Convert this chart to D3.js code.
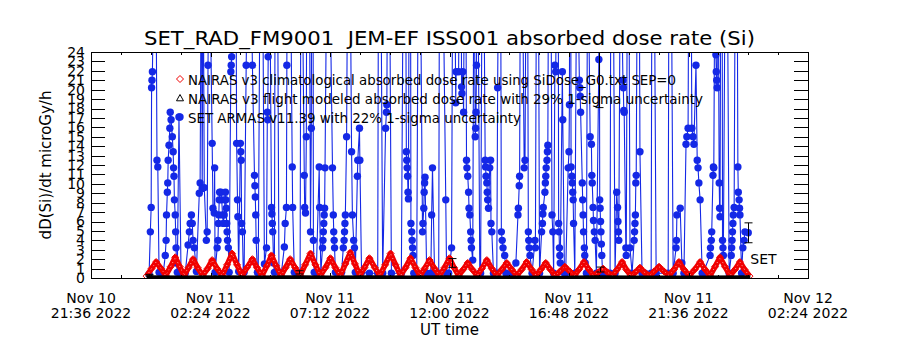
<!DOCTYPE html>
<html>
<head>
<meta charset="utf-8">
<script src="https://cdn.jsdelivr.net/npm/d3@7"></script>
<style>
  body { margin: 0; background: #fff; }
  svg text { font-family: "DejaVu Sans", sans-serif; fill: #000; }
</style>
</head>
<body>
<svg id="chart" width="900" height="350"></svg>
<script>
// times are minutes since 2022-11-10 00:00 UT
const dayZero = Date.UTC(2022, 10, 10, 0, 0);

const xTickTimes = ["2022-11-10T21:36Z", "2022-11-11T02:24Z", "2022-11-11T07:12Z", "2022-11-11T12:00Z",
                    "2022-11-11T16:48Z", "2022-11-11T21:36Z", "2022-11-12T02:24Z"];
const yTicks = [0,1,2,3,4,5,6,7,8,9,10,11,12,13,14,15,16,17,18,19,20,21,22,23,24];

const legendLabels = [
  "NAIRAS v3 climatological absorbed dose rate using SiDose_G0.txt SEP=0",
  "NAIRAS v3 flight modeled absorbed dose rate with 29% 1-sigma uncertainty",
  "SET ARMAS v11.39 with 22% 1-sigma uncertainty"
];

// SET ARMAS dose rate [minute, microGy/h]
const setDose = [
  [1436,0.4],[1439,4.9],[1441,7.5],[1442,20.2],[1443,21.0],[1444,21.9],[1448,35],[1453,30],[1455,12.5],[1457,11.8],[1460,0.6],
  [1470,0.5],[1475,2.4],[1477,4.0],[1478,6.7],[1480,9.1],[1481,10.1],[1482,12.5],[1484,14.1],[1486,15.9],[1487,17.6],[1489,16.8],
  [1492,15.0],[1494,13.4],[1495,11.7],[1496,10.8],[1497,8.3],[1499,6.7],[1500,4.9],[1501,3.2],[1502,1.6],[1504,0.6],[1508,17.1],[1513,0.5],
  [1523,0.5],[1530,3.5],[1533,4.9],[1535,5.8],[1538,6.7],[1540,5.8],[1542,4.0],[1545,3.2],[1550,0.7],[1557,9.0],[1559,10.1],[1562,38],
  [1564,9.5],[1566,38],[1569,9.6],[1574,4.0],[1576,4.9],[1578,22.6],[1581,38],[1588,14.3],[1590,7.4],[1593,6.9],[1594,11.7],[1595,0.6],
  [1600,3.2],[1602,4.0],[1603,5.8],[1604,6.7],[1605,8.3],[1606,9.1],[1609,9.1],[1611,8.3],[1613,6.7],[1615,5.8],[1617,6.7],[1619,8.3],
  [1620,9.1],[1621,8.3],[1622,7.4],[1623,5.8],[1624,4.9],[1625,4.0],[1627,3.2],[1629,0.6],
  [1633,21.9],[1634,22.6],[1635,23.5],[1638,38],[1645,38],[1647,14.3],[1649,8.3],[1650,6.5],[1652,0.7],[1656,14.3],[1657,13.4],
  [1658,12.5],[1659,5.8],[1661,4.9],[1663,0.6],
  [1665,0.6],[1670,22.6],[1675,38],[1680,38],[1685,22.6],[1690,10.9],[1691,9.8],[1692,8.6],[1693,6.7],[1694,4.0],[1697,0.6],
  [1699,0.6],[1704,38],[1709,38],[1714,1.5],[1719,3.2],[1721,17.6],[1722,16.8],[1723,23.5],[1726,38],[1731,7.5],[1732,6.8],[1733,5.8],
  [1734,4.9],[1736,1.6],[1738,0.6],[1740,38],[1745,38],[1749,0.6],
  [1755,0.6],[1762,3.3],[1764,5.8],[1767,7.5],[1768,22.6],[1769,38],[1776,38],[1781,11.8],[1782,7.5],[1786,0.6],
  [1793,0.6],[1800,0.6],[1802,38],[1804,38],[1810,10.9],[1811,7.5],[1813,6.9],[1815,15.0],[1816,38],[1822,38],[1825,4.9],[1827,15.9],
  [1828,38],[1831,38],[1832,4.0],[1834,0.6],
  [1839,0.6],[1846,11.8],[1847,7.5],[1850,0.6],[1854,3.2],[1855,4.0],[1856,4.9],[1857,5.8],[1858,6.7],[1859,7.4],[1860,11.7],[1865,38],
  [1870,38],[1878,11.7],[1880,6.7],[1881,4.9],[1882,4.0],[1883,3.2],[1885,0.6],
  [1900,0.6],[1904,3.2],[1906,4.0],[1907,4.9],[1908,5.8],[1909,6.7],[1912,15.0],[1915,38],[1920,38],[1924,13.4],[1926,6.7],[1929,4.0],
  [1931,3.2],[1933,0.6],[1938,10.8],[1939,12.5],[1943,15.9],[1944,12.5],[1948,0.6],
  [1967,0.5],[1987,0.5],[1989,38],[1994,38],[1999,0.5],[2006,15.9],[2008,17.6],[2009,18.4],[2011,38],[2015,38],[2020,0.5],
  [2044,0.5],[2049,38],[2054,38],[2056,13.4],[2057,12.5],[2058,11.7],[2059,10.8],[2060,9.1],[2061,8.4],[2063,38],[2066,38],[2067,5.8],
  [2069,4.9],[2070,4.0],[2071,3.2],[2072,2.4],[2074,0.5],
  [2081,0.5],[2085,38],[2089,38],[2095,4.9],[2096,5.8],[2098,7.4],[2099,9.1],[2100,10.1],[2101,10.7],[2105,0.5],[2115,0.5],[2117,6.7],
  [2119,11.7],[2124,0.5],[2134,0.5],[2136,38],[2143,38],[2151,8.3],[2153,0.5],
  [2158,0.5],[2165,3.2],[2168,38],[2172,38],[2175,18.6],[2176,21.9],[2182,21.9],[2184,38],[2188,38],[2189,20.3],[2190,19.6],[2192,21.9],
  [2194,17.6],[2196,38],[2199,38],[2201,12.5],[2202,11.7],[2204,10.8],[2206,9.1],[2207,7.4],[2209,6.7],[2211,4.9],[2212,4.0],[2213,3.2],
  [2216,1.9],[2219,38],[2222,15.0],[2223,15.9],[2224,17.6],[2225,22.6],[2228,38],[2233,0.5],
  [2235,0.5],[2239,38],[2242,38],[2246,12.5],[2247,11.8],[2248,10.8],[2250,10.1],[2251,9.1],[2252,8.3],[2254,7.4],[2257,11.7],[2259,12.5],
  [2260,5.8],[2262,4.9],[2266,0.5],[2274,0.5],[2276,20.2],[2279,38],[2283,38],[2285,4.9],[2287,4.0],[2289,3.2],[2293,2.4],[2296,0.5],
  [2308,0.5],[2320,1.6],[2325,6.7],[2326,7.4],[2328,9.8],[2329,10.8],[2331,38],[2335,38],[2340,11.7],[2342,12.5],[2345,38],[2348,38],
  [2350,4.9],[2351,4.0],[2352,3.2],[2354,2.4],[2359,0.5],[2366,4.0],[2367,3.2],[2370,38],[2374,38],[2377,0.5],
  [2382,4.9],[2384,5.8],[2385,6.8],[2386,7.5],[2390,9.1],[2391,10.1],[2392,10.8],[2393,11.7],[2395,12.5],[2396,13.4],[2397,14.1],
  [2399,38],[2404,38],[2407,6.7],[2409,4.9],[2411,0.5],[2414,22.6],[2416,21.9],[2419,38],[2422,38],[2423,5.8],[2424,4.9],[2425,3.2],
  [2426,2.4],[2427,1.6],[2432,21.9],[2433,16.8],[2437,0.5],
  [2440,0.5],[2446,11.7],[2448,13.4],[2449,18.4],[2450,38],[2452,38],[2453,11.8],[2455,10.8],[2456,10.1],[2457,9.1],[2458,8.3],[2459,5.8],
  [2462,0.5],[2467,38],[2473,21.0],[2474,20.2],[2475,19.3],[2476,17.6],[2480,10.1],[2481,8.3],[2482,6.7],[2483,4.9],[2485,3.2],[2486,2.4],
  [2487,1.6],[2490,0.5],[2493,38],[2499,15.0],[2502,14.2],[2503,10.9],[2504,10.1],[2506,7.5],[2507,6.1],[2509,4.9],[2511,4.0],[2514,0.5],
  [2520,23.2],[2521,38],[2522,8.3],[2523,7.4],[2524,6.0],[2525,4.9],[2526,3.6],[2527,2.4],[2529,0.5],
  [2532,0.5],[2547,0.5],[2549,38],[2554,38],[2559,0.5],[2563,9.1],[2565,7.5],[2566,6.0],[2567,4.9],[2568,4.0],[2572,38],[2578,21.0],
  [2579,20.2],[2580,17.8],[2581,17.6],[2585,3.2],[2586,2.4],[2589,38],[2592,38],[2595,3.2],[2600,0.5],[2605,4.0],[2606,4.9],[2607,5.8],
  [2608,6.7],[2609,10.1],[2610,10.9],[2613,38],[2617,38],[2619,13.4],[2624,0.5],
  [2631,0.5],[2646,0.5],[2648,38],[2653,38],[2658,0.5],[2687,0.5],[2689,38],[2694,38],[2699,0.5],[2706,3.2],[2707,4.0],[2708,6.7],
  [2716,7.4],[2720,1.6],[2725,0.5],[2730,14.2],[2732,15.0],[2735,15.9],[2737,38],[2742,38],[2744,15.9],[2747,15.0],[2749,14.2],
  [2754,22.6],[2757,12.5],[2759,11.7],[2761,10.1],[2764,8.3],[2769,0.5],
  [2771,0.5],[2788,2.4],[2789,3.2],[2791,4.0],[2792,4.9],[2795,10.9],[2796,11.8],[2797,11.7],[2800,38],[2802,23.7],[2803,21.9],
  [2804,21.0],[2805,20.2],[2807,38],[2810,10.1],[2811,7.4],[2812,6.5],[2814,38],[2817,38],[2818,4.0],[2819,3.2],[2820,2.4],[2825,38],
  [2829,38],[2834,0.5],[2839,2.4],[2840,3.2],[2841,4.0],[2842,4.9],[2843,5.8],[2844,6.7],[2846,7.5],[2849,38],[2853,38],[2855,11.8],
  [2856,9.1],[2858,8.3],[2859,7.4],[2860,6.7],[2864,0.5],[2867,3.2],[2870,4.0],[2872,4.9],[2880,4.8]
];
const setErrorBars = [[2520,23.2],[2880,4.8]];
const setUncertainty = 0.22;

// NAIRAS v3 climatological [minute, microGy/h]
const climDose = [
  [1430,0.2],[1442,1.0],[1453,1.7],[1465,1.0],[1476,0.25],[1488,1.2],[1499,2.2],[1510,1.2],[1520,0.25],[1531,1.1],[1542,2.0],[1553,1.1],
  [1565,0.25],[1577,1.0],[1588,1.9],[1600,1.0],[1612,0.25],[1624,1.4],[1636,2.6],[1648,1.4],[1660,0.25],[1672,1.1],[1685,2.0],[1696,1.1],
  [1708,0.25],[1720,1.3],[1731,2.4],[1742,1.3],[1754,0.25],[1765,1.1],[1776,2.0],[1788,1.1],[1800,0.25],[1812,1.4],[1825,2.6],[1837,1.4],
  [1849,0.25],[1861,1.1],[1873,2.1],[1885,1.1],[1897,0.25],[1909,1.5],[1921,2.7],[1932,1.5],[1944,0.25],[1955,1.1],[1967,2.1],[1980,1.1],
  [1992,0.25],[2005,1.4],[2018,2.6],[2030,1.4],[2042,0.25],[2054,1.1],[2066,2.1],[2078,1.1],[2089,0.25],[2100,1.0],[2112,1.9],[2124,1.0],
  [2136,0.25],[2148,1.1],[2160,2.1],[2171,1.1],[2182,0.25],[2193,0.9],[2204,1.6],[2215,0.9],[2227,0.25],[2238,1.0],[2250,1.9],[2262,1.0],
  [2274,0.25],[2286,0.9],[2298,1.6],[2310,0.9],[2322,0.25],[2334,0.9],[2346,1.7],[2358,0.9],[2369,0.25],[2380,0.9],[2392,1.6],[2403,0.9],
  [2415,0.25],[2426,0.7],[2438,1.2],[2450,0.7],[2461,0.25],[2472,0.9],[2484,1.7],[2496,0.9],[2507,0.25],[2518,0.6],[2530,1.0],[2541,0.6],
  [2553,0.25],[2564,0.9],[2576,1.7],[2586,0.9],[2597,0.25],[2608,0.6],[2619,1.1],[2630,0.6],[2642,0.25],[2653,0.7],[2665,1.2],[2677,0.7],
  [2689,0.25],[2701,0.9],[2713,1.7],[2725,0.9],[2738,0.25],[2751,0.9],[2764,1.7],[2776,0.9],[2788,0.25],[2800,1.2],[2812,2.2],[2824,1.2],
  [2836,0.25],[2848,0.9],[2860,1.7],[2871,0.9],[2883,0.2]
];

// NAIRAS v3 flight modeled [minute, microGy/h]
const flightDose = [
  [1430,0.12],[1520,0.10],[1610,0.14],[1700,0.10],[1790,0.12],[1880,0.10],[1970,0.13],[2060,0.10],[2150,0.12],
  [2240,0.10],[2330,0.11],[2420,0.09],[2510,0.12],[2600,0.10],[2690,0.11],[2780,0.10],[2885,0.12]
];
const flightErrorBars = [[1436,0.3],[1798,0.6],[2165,1.6],[2522,0.9]];
const flightUncertainty = 0.29;

const toDate = m => new Date(dayZero + m * 60000);

const svg = d3.select("#chart");
const margin = { top: 52, right: 92, bottom: 72, left: 91 },
    width = 900 - margin.left - margin.right,
    height = 350 - margin.top - margin.bottom;

const x = d3.scaleUtc()
    .domain([new Date(xTickTimes[0]), new Date(xTickTimes[xTickTimes.length - 1])])
    .range([0, width]);
const y = d3.scaleLinear().domain([0, 24]).range([height, 0]);

const g = svg.append("g").attr("transform", "translate(" + margin.left + "," + margin.top + ")");

g.append("clipPath").attr("id", "plotClip")
  .append("rect").attr("width", width).attr("height", height);

const plot = g.append("g").attr("clip-path", "url(#plotClip)");

const line = d3.line().x(d => x(toDate(d[0]))).y(d => y(d[1]));

const blue = "#1428e6", red = "#f00000";

// SET ARMAS
plot.append("path").datum(setDose)
    .attr("fill", "none").attr("stroke", blue).attr("stroke-width", 1.1)
    .attr("d", line);
plot.selectAll(".setDot").data(setDose).join("circle")
    .attr("class", "setDot")
    .attr("cx", d => x(toDate(d[0]))).attr("cy", d => y(d[1]))
    .attr("r", 3.7).attr("fill", blue);

// NAIRAS climatological
const diamond = r => "M0," + (-r) + "L" + r + ",0L0," + r + "L" + (-r) + ",0Z";
const triangle = r => "M0," + (-r) + "L" + r + "," + (r * 0.8) + "L" + (-r) + "," + (r * 0.8) + "Z";

plot.append("path").datum(climDose)
    .attr("fill", "none").attr("stroke", red).attr("stroke-width", 5.5)
    .attr("stroke-linejoin", "round")
    .attr("d", line);
plot.append("path").datum(climDose)
    .attr("fill", "none").attr("stroke", "#ffb3b3").attr("stroke-width", 1)
    .attr("stroke-dasharray", "1 3")
    .attr("d", line);
plot.selectAll(".climDot").data(climDose).join("path")
    .attr("class", "climDot")
    .attr("transform", d => "translate(" + x(toDate(d[0])) + "," + y(d[1]) + ")")
    .attr("d", diamond(3.5)).attr("fill", "none").attr("stroke", red).attr("stroke-width", 1);

// NAIRAS flight modeled
plot.append("path").datum(flightDose)
    .attr("fill", "none").attr("stroke", "#000").attr("stroke-width", 3)
    .attr("d", line);

// error bars
const errBar = (sel, data, frac) => {
  const e = sel.selectAll(null).data(data).join("g")
      .attr("transform", d => "translate(" + Math.round(x(toDate(d[0]))) + ".5,0)");
  e.append("line").attr("y1", d => y(d[1] * (1 - frac))).attr("y2", d => y(d[1] * (1 + frac)))
      .attr("stroke", "#000");
  e.append("line").attr("x1", -4).attr("x2", 4)
      .attr("y1", d => y(d[1] * (1 - frac))).attr("y2", d => y(d[1] * (1 - frac))).attr("stroke", "#000");
  e.append("line").attr("x1", -4).attr("x2", 4)
      .attr("y1", d => y(d[1] * (1 + frac))).attr("y2", d => y(d[1] * (1 + frac))).attr("stroke", "#000");
};
errBar(plot, setErrorBars, setUncertainty);
errBar(plot, flightErrorBars, flightUncertainty);

// SET label next to last sample
const lastSet = setDose[setDose.length - 1];
g.append("text")
    .attr("x", x(toDate(lastSet[0])) + 2)
    .attr("y", y(lastSet[1]) + 31)
    .style("font-size", "14px")
    .text("SET");

// axes
const majors = xTickTimes.map(d => new Date(d));
const minors = [];
for (let i = 0; i < majors.length - 1; i++) {
  const step = (majors[i + 1] - majors[i]) / 4;
  for (let k = 1; k < 4; k++) minors.push(new Date(+majors[i] + k * step));
}

function styleAxis(sel) {
  sel.select(".domain").remove();
  sel.selectAll(".tick line").attr("stroke", "#000").attr("shape-rendering", "crispEdges");
  sel.attr("font-family", null).attr("font-size", null);
}

g.append("g").attr("transform", "translate(0," + height + ")")
    .call(d3.axisBottom(x).tickValues(majors).tickSize(-5).tickSizeOuter(0).tickFormat(""))
    .call(styleAxis);
g.append("g").attr("transform", "translate(0," + height + ")")
    .call(d3.axisBottom(x).tickValues(minors).tickSize(-3).tickSizeOuter(0).tickFormat(""))
    .call(styleAxis);
g.append("g")
    .call(d3.axisTop(x).tickValues(majors).tickSize(-5).tickSizeOuter(0).tickFormat(""))
    .call(styleAxis);
g.append("g")
    .call(d3.axisTop(x).tickValues(minors).tickSize(-3).tickSizeOuter(0).tickFormat(""))
    .call(styleAxis);

g.append("g")
    .call(d3.axisLeft(y).tickValues(yTicks).tickSize(-14).tickSizeOuter(0).tickPadding(6))
    .call(styleAxis)
    .selectAll("text").style("font-size", "14px");
g.append("g").attr("transform", "translate(" + width + ",0)")
    .call(d3.axisRight(y).tickValues(yTicks).tickSize(-14).tickSizeOuter(0).tickFormat(""))
    .call(styleAxis);

g.append("rect").attr("x", 0.5).attr("y", 0.5).attr("width", width).attr("height", height)
    .attr("fill", "none").attr("stroke", "#000").attr("shape-rendering", "crispEdges");

// two-line date labels
const fmtDay = d3.utcFormat("%b %d"), fmtTime = d3.utcFormat("%H:%M %Y");
const xl = g.append("g").selectAll("text").data(majors).join("text")
    .attr("text-anchor", "middle").style("font-size", "14px");
xl.append("tspan").attr("x", d => x(d)).attr("y", height + 25).text(fmtDay);
xl.append("tspan").attr("x", d => x(d)).attr("y", height + 40).text(fmtTime);

g.append("text").attr("x", width / 2).attr("y", height + 57)
    .attr("text-anchor", "middle").style("font-size", "15px").text("UT time");

g.append("text")
    .attr("transform", "translate(" + (-40) + "," + (height / 2) + ") rotate(-90)")
    .attr("text-anchor", "middle").style("font-size", "15px")
    .text("dD(Si)/dt microGy/h");

svg.append("text").attr("x", margin.left + width / 2).attr("y", 45)
    .attr("text-anchor", "middle").style("font-size", "19px").style("white-space", "pre")
    .attr("textLength", 611).attr("lengthAdjust", "spacingAndGlyphs")
    .text("SET_RAD_FM9001  JEM-EF ISS001 absorbed dose rate (Si)");

// legend
const legendWidths = [488, 515, 333];
const legend = svg.append("g").attr("transform", "translate(180,79)");
const rows = legend.selectAll("g").data(legendLabels).join("g")
    .attr("transform", (d, i) => "translate(0," + (i * 19) + ")");
rows.append("text").attr("x", 8).attr("y", 5.5)
    .style("font-size", "14px")
    .attr("textLength", (d, i) => legendWidths[i]).attr("lengthAdjust", "spacingAndGlyphs")
    .text(d => d);
rows.filter((d, i) => i === 0).append("path").attr("d", diamond(3.5))
    .attr("fill", "none").attr("stroke", red);
rows.filter((d, i) => i === 1).append("path").attr("d", triangle(3.5))
    .attr("fill", "none").attr("stroke", "#000");
rows.filter((d, i) => i === 2).append("circle").attr("r", 3.7).attr("fill", blue);
</script>
</body>
</html>
